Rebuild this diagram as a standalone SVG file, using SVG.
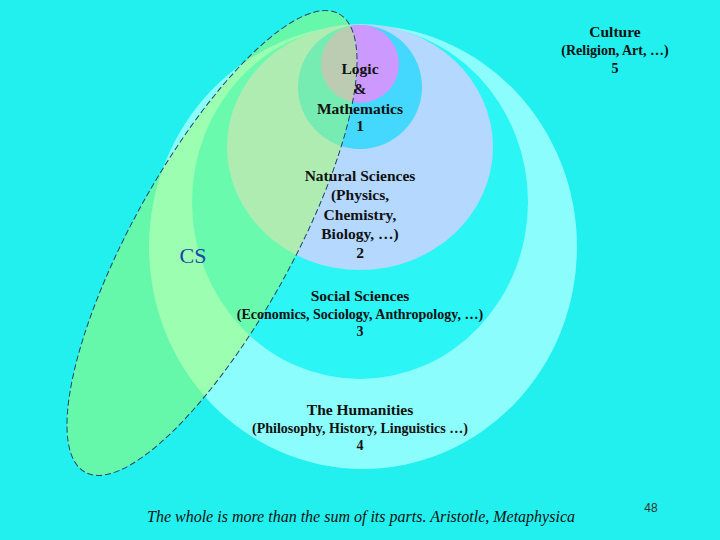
<svg xmlns="http://www.w3.org/2000/svg" width="720" height="540" viewBox="0 0 720 540">
<style>
.t{font-family:"Liberation Serif",serif;font-weight:bold;font-size:15.5px;text-anchor:middle;fill:#111}
.s{font-size:14px}
</style>
<rect width="720" height="540" fill="#22F0EE"/>
<g id="humanities"><ellipse cx="363" cy="247" rx="214" ry="222" fill="#8CFDFD"/></g>
<g id="social"><ellipse cx="360" cy="202" rx="168" ry="177" fill="#2BF5F5"/></g>
<g id="natural"><ellipse cx="360" cy="147" rx="133" ry="123" fill="#B4D8FF"/></g>
<g id="logic"><circle cx="360" cy="87" r="62" fill="#44D8FF"/><circle cx="360" cy="64" r="39" fill="#CC99FF"/></g>
<g id="cs"><ellipse cx="212" cy="243" rx="262" ry="80" transform="rotate(-61 212 243)" fill="#AAFF66" fill-opacity="0.5" stroke="#224466" stroke-width="1" stroke-dasharray="6,3"/>
<text x="193" y="263" font-family="Liberation Serif,serif" font-size="22" fill="#2244AA" text-anchor="middle">CS</text></g>
<g id="labels">
<text class="t" x="360" y="74">Logic</text>
<text class="t" x="360" y="94">&amp;</text>
<text class="t" x="360" y="114">Mathematics</text>
<text class="t" x="360" y="131">1</text>
<text class="t" x="360" y="181">Natural Sciences</text>
<text class="t" x="360" y="200">(Physics,</text>
<text class="t" x="360" y="220">Chemistry,</text>
<text class="t" x="360" y="239">Biology, …)</text>
<text class="t" x="360" y="258">2</text>
<text class="t" x="360" y="301">Social Sciences</text>
<text class="t s" x="360" y="319">(Economics, Sociology, Anthropology, …)</text>
<text class="t s" x="360" y="336">3</text>
<text class="t" x="360" y="415">The Humanities</text>
<text class="t s" x="360" y="433">(Philosophy, History, Linguistics …)</text>
<text class="t s" x="360" y="450">4</text>
<text class="t" x="615" y="37">Culture</text>
<text class="t s" x="615" y="55">(Religion, Art, …)</text>
<text class="t s" x="615" y="73">5</text>
</g>
<text x="361" y="522" font-family="Liberation Serif,serif" font-style="italic" font-size="16" text-anchor="middle" fill="#111">The whole is more than the sum of its parts. Aristotle, Metaphysica</text>
<text x="651" y="512" font-family="Liberation Sans,sans-serif" font-size="12" text-anchor="middle" fill="#333">48</text>
</svg>
